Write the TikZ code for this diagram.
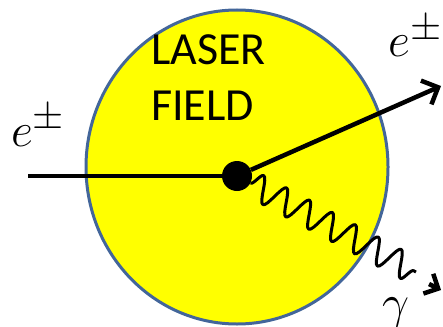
\documentclass[tikz,border=0pt]{standalone}
\usepackage{graphicx}
\usepackage{fontspec}
\newfontfamily\laserfont{Carlito}
\usetikzlibrary{arrows.meta,decorations.pathmorphing,shapes.geometric}
\definecolor{rimblue}{HTML}{43669A}
\definecolor{fieldyellow}{HTML}{FFFF00}
\newcommand{\biglbl}[1]{\scalebox{1.93}{\fontsize{24.88}{30}\selectfont$#1$}}
\tikzset{
  field/.style={ellipse, draw=rimblue, fill=fieldyellow, line width=3pt, inner sep=0pt,
    minimum width=302pt, minimum height=314pt},
  vertex/.style={circle, fill=black, inner sep=0pt, minimum size=30pt},
  lbl/.style={inner sep=0pt, anchor=base west},
  title/.style={inner sep=0pt, anchor=base west, font=\laserfont\fontsize{46}{46}\selectfont},
  particle/.style={line width=3.5pt},
  photon/.style={line width=3pt, line join=round, decorate, decoration={snake, amplitude=13pt, segment length=26pt}},
}
\begin{document}
\begin{tikzpicture}[x=1pt,y=-1pt]
\useasboundingbox (0,0) rectangle (443,326);
\node[field] (fld) at (237,167) {};
\node[title] (laser) at (151,65) {LASER};
\node[title] (fieldtxt) at (151,120) {FIELD};
\node[lbl] (ein) at (11,146) {\biglbl{e^{\pm}}};
\node[lbl] (eout) at (388,57) {\biglbl{e^{\pm}}};
\node[lbl] (gam) at (382,318) {\biglbl{\gamma}};
\node[vertex] (dot) at (237,176) {};
\coordinate (start) at (28,176);
\coordinate (etip) at (441,86);
\coordinate (wend) at (416,272);
\coordinate (gb) at (429,284);
\coordinate (gtip) at (441,290);
\draw[particle] (start) -- (dot);
\draw[line width=4.5pt, -{Straight Barb[length=13pt,width=26pt]}] (dot) -- (etip);
\draw[photon] (dot) -- (wend);
\draw[line width=4.5pt, -{Straight Barb[length=11pt,width=22pt]}] (gb) -- (gtip);
\end{tikzpicture}
\end{document}
